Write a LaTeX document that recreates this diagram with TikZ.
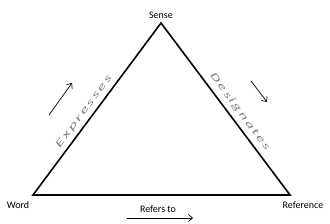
\documentclass[tikz,border=0pt]{standalone}
\usepackage{fontspec}
\setmainfont{Carlito}
\newfontfamily\spacedfont[LetterSpace=12]{Carlito}
\usetikzlibrary{arrows.meta}
\begin{document}
\begin{tikzpicture}[x=1pt,y=-1pt,
  side/.style={line width=1.6pt},
  lbl/.style={font=\fontsize{10}{12}\selectfont, inner sep=0pt},
  flow/.style={line width=0.7pt, -{Straight Barb[length=4pt,width=7pt]}},
  slant/.style={inner sep=0pt, text=black!50, font=\spacedfont\fontsize{10}{12}\selectfont\itshape}]
\useasboundingbox (0,0) rectangle (330,224);
\fill[white] (0,0) rectangle (330,224);
\coordinate (S) at (161,23);
\coordinate (W) at (33,195);
\coordinate (R) at (290,195);
\draw[side, line join=miter] (W) -- (S) -- (R) -- cycle;
\node[lbl] (sense) at (161,15) {Sense};
\node[lbl] (word) at (18,205) {Word};
\node[lbl] (ref) at (303,205) {Reference};
\node[lbl] (refto) at (158,209) {Refers to};
\coordinate (a1) at (127,218);
\coordinate (a2) at (193,218);
\draw[flow] (a1) -- (a2);
\coordinate (b1) at (49,115);
\coordinate (b2) at (72,83);
\draw[flow] (b1) -- (b2);
\coordinate (c1) at (251,81);
\coordinate (c2) at (267,102);
\draw[flow] (c1) -- (c2);
\node[slant, rotate=53.5] (expr) at (84,112) {\scalebox{1.8}[1]{Expresses}};
\node[slant, rotate=-53.5] (desig) at (240,112) {\scalebox{1.7}[1]{Designates}};
\end{tikzpicture}
\end{document}
